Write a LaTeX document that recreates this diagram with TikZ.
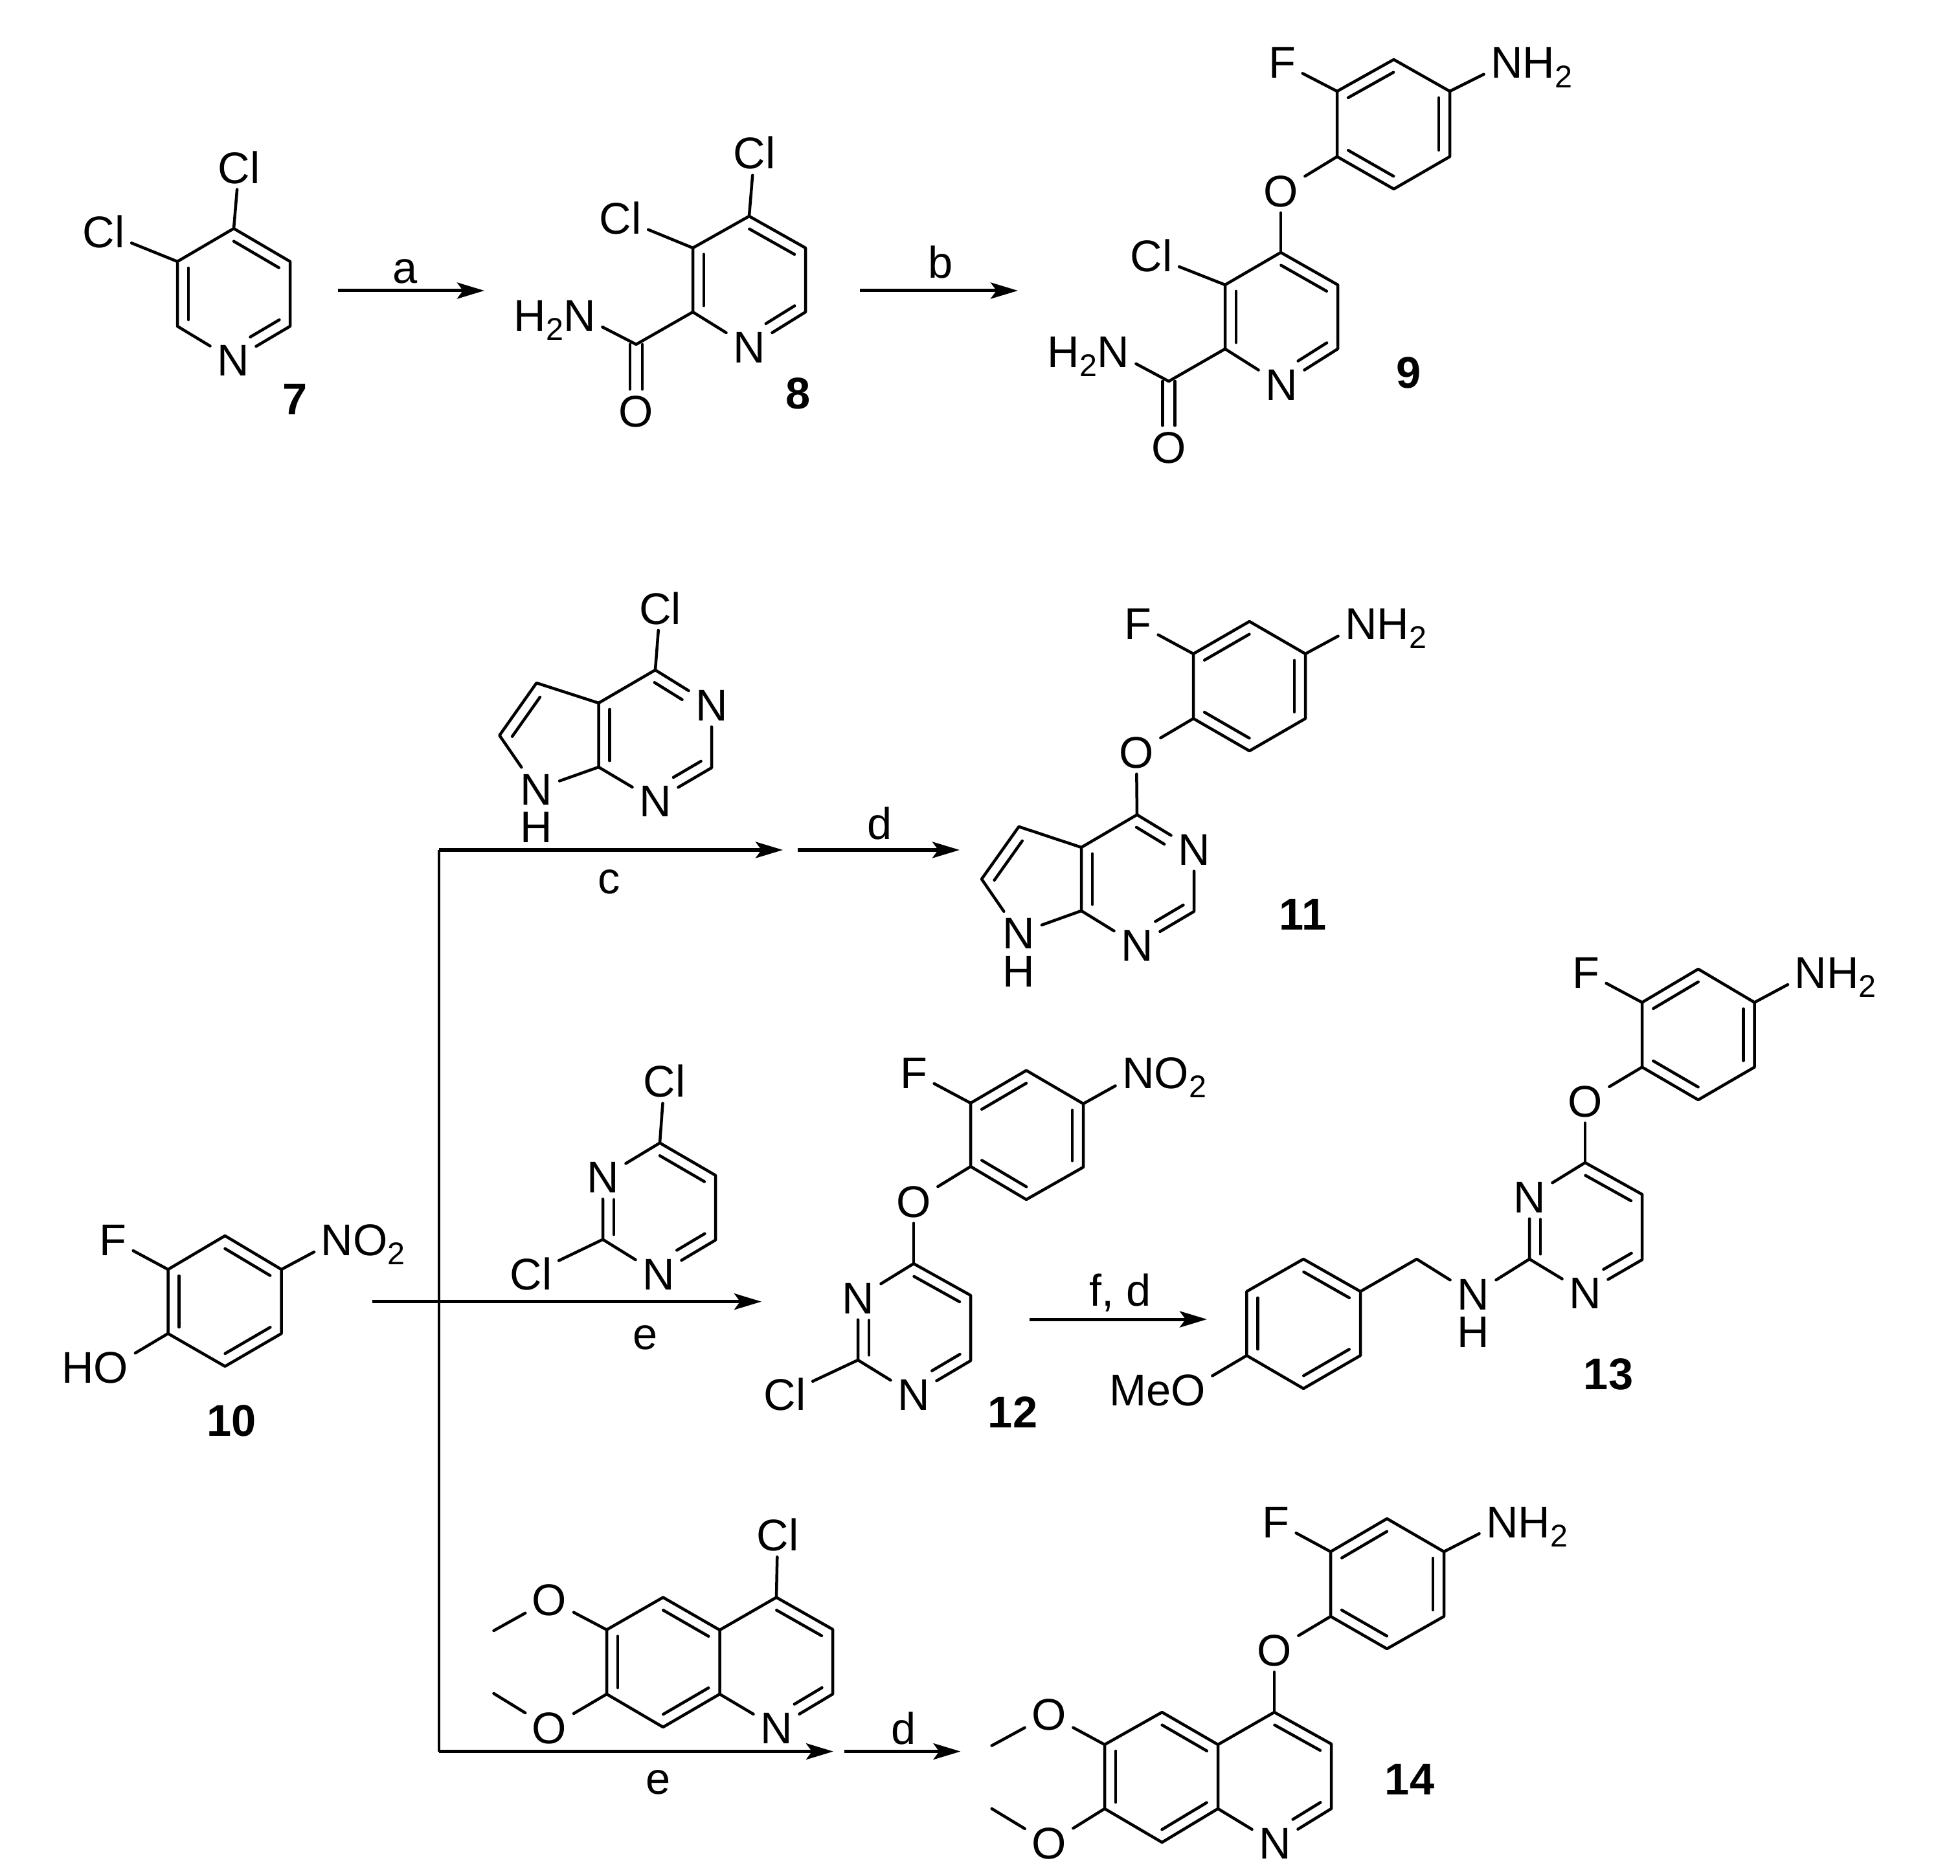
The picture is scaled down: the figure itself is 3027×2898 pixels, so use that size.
\documentclass[tikz,border=0pt]{standalone}
\usepackage{fontspec}
\setmainfont{Liberation Sans}
\usetikzlibrary{calc,arrows.meta}
\newcommand\subtwo{\raisebox{-0.14cm}{\fontsize{13.8pt}{13.8pt}\selectfont 2}}
\newcommand\carb[3]{\coordinate (#1) at (#2,#3);}
\newcommand\atm[4]{\node[atom] (#1) at (#2,#3) {#4};}
\newcommand\hyd[3]{\node[atom,inner sep=0pt] (#1) at (#2,#3) {H};}
\newcommand\dbf[4]{\draw[bond] ($(#1)!#3!(#2)!0.17cm!-90:(#2)$) -- ($(#1)!#4!(#2)!0.17cm!-90:(#2)$);}
\newcommand\db[2]{\dbf{#1}{#2}{0.1}{0.9}}
\newcommand\co[2]{\draw[bond] ([xshift=-0.095cm]#1) -- ([xshift=-0.095cm]#2.north);\draw[bond] ([xshift=0.095cm]#1) -- ([xshift=0.095cm]#2.north);}
\newcommand\phb[1]{\draw[bond] (#1a) -- (#1b) -- (#1c) -- (#1d) -- (#1e) -- (#1f) -- cycle;\db{#1a}{#1b}\db{#1c}{#1d}\db{#1e}{#1f}}
\tikzset{
 every node/.style={font=\fontsize{19.5pt}{19.5pt}\selectfont},
 atom/.style={rectangle,inner xsep=0.1cm,inner ysep=0.09cm,text height=0.48cm,text depth=0pt},
 lab/.style={anchor=base,inner sep=0pt},
 num/.style={inner sep=0pt,text height=0.48cm,text depth=0pt,font=\fontsize{19.5pt}{19.5pt}\selectfont\bfseries},
 bond/.style={line width=0.045cm,line cap=round,line join=round},
 rx/.style={line width=0.05cm,-{Stealth[length=0.42cm,width=0.25cm,inset=0.09cm]}},
 riser/.style={line width=0.04cm,line cap=butt}
}
\begin{document}
\begin{tikzpicture}[x=0.01cm,y=-0.01cm]
\useasboundingbox (0,0) rectangle (3027,2898);
\fill[white] (0,0) rectangle (3027,2898);
% ---- 7
\carb{sa}{361}{353}\carb{sb}{448}{404}\carb{sc}{448}{504}\atm{sn}{360}{556}{N}\carb{sd}{274}{504}\carb{se}{274}{404}
\atm{scla}{369}{259}{Cl}\atm{sclb}{160}{358}{Cl}
\draw[bond] (se)--(sa)--(sb)--(sc)--(sn)--(sd)--(se);
\draw[bond] (sa)--(scla);\draw[bond] (se)--(sclb);
\db{sa}{sb}\dbf{sc}{sn}{0.09}{0.6}\db{sd}{se}
\node[num] (nseven) at (456,616) {7};
% ---- 8
\carb{ea}{1157}{334}\carb{eb}{1244}{383}\carb{ec}{1244}{482}\atm{en}{1157}{536}{N}\carb{ed}{1070}{482}\carb{ee}{1070}{383}
\atm{ecla}{1165}{237}{Cl}\atm{eclb}{958}{337}{Cl}\carb{eam}{982.5}{532}\atm{enh}{895}{487}{\llap{H\subtwo}N}\atm{eo}{982.5}{635}{O}
\draw[bond] (ee)--(ea)--(eb)--(ec)--(en)--(ed)--(ee);
\draw[bond] (ea)--(ecla);\draw[bond] (ee)--(eclb);\draw[bond] (ed)--(eam)--(enh);\co{eam}{eo}
\db{ea}{eb}\dbf{ec}{en}{0.09}{0.6}\db{ed}{ee}
\node[num] (neight) at (1233,607) {8};
% ---- 9
\carb{na}{1978}{390}\carb{nb}{2066}{440}\carb{nc}{2066}{539}\atm{nn}{1979}{594}{N}\carb{nd}{1892}{539}\carb{ne}{1892}{440}
\atm{ncl}{1778}{395}{Cl}\carb{nam}{1805}{589}\atm{nnh}{1719}{543}{\llap{H\subtwo}N}\atm{no}{1805}{691}{O}\atm{nox}{1978}{295}{O}
\draw[bond] (ne)--(na)--(nb)--(nc)--(nn)--(nd)--(ne);
\draw[bond] (ne)--(ncl);\draw[bond] (nd)--(nam)--(nnh);\co{nam}{no}\draw[bond] (na)--(nox);
\db{na}{nb}\dbf{nc}{nn}{0.09}{0.6}\db{nd}{ne}
\carb{pa}{2065}{141}\carb{pb}{2152.5}{92}\carb{pc}{2239}{141}\carb{pd}{2239}{242}\carb{pe}{2152.5}{292}\carb{pf}{2065}{242}
\phb{p}
\atm{pfl}{1980}{97}{F}\atm{pnh}{2327}{97}{N\rlap{H\subtwo}}
\draw[bond] (pa)--(pfl);\draw[bond] (pc)--(pnh);\draw[bond] (pf)--(nox);
\node[num] (nnine) at (2176,575) {9};
% ---- arrows a, b
\coordinate (aas) at (522,449);\coordinate (aae) at (748,449);\coordinate (abs) at (1328,449);\coordinate (abe) at (1572,449);
\draw[rx] (aas)--(aae);\draw[rx] (abs)--(abe);
\node[lab] (txa) at (626,438) {a};\node[lab] (txb) at (1453,430) {b};
% ---- pyrrolopyrimidine reagent
\carb{ra}{1012}{1035}\atm{rn}{1099}{1089}{N}\carb{rc}{1099}{1186}\atm{rm}{1012}{1237}{N}\carb{rd}{924.5}{1185}\carb{re}{924.5}{1086}
\carb{rf}{828.6}{1055}\carb{rg}{771.4}{1136}\atm{rh}{828.6}{1219}{N}\hyd{rhh}{828.6}{1277}\atm{rcl}{1019.4}{940}{Cl}
\draw[bond] (re)--(ra)--(rn)--(rc)--(rm)--(rd)--(re);\draw[bond] (re)--(rf)--(rg)--(rh)--(rd);\draw[bond] (ra)--(rcl);
\dbf{ra}{rn}{0.09}{0.58}\dbf{rc}{rm}{0.09}{0.58}\db{rd}{re}\dbf{rg}{rf}{0.1}{0.85}
% ---- 11
\carb{ta}{1756}{1258.6}\atm{tn}{1844}{1312}{N}\carb{tc}{1844}{1408}\atm{tm}{1756}{1460}{N}\carb{td}{1670}{1407}\carb{te}{1670}{1309}
\carb{tf}{1573.5}{1277}\carb{tg}{1516}{1358}\atm{th}{1573.5}{1441.6}{N}\hyd{thh}{1573.5}{1500}\atm{tox}{1755}{1162}{O}
\draw[bond] (te)--(ta)--(tn)--(tc)--(tm)--(td)--(te);\draw[bond] (te)--(tf)--(tg)--(th)--(td);\draw[bond] (ta)--(tox);
\dbf{ta}{tn}{0.09}{0.58}\dbf{tc}{tm}{0.09}{0.58}\db{td}{te}\dbf{tg}{tf}{0.1}{0.85}
\carb{ua}{1843}{1010}\carb{ub}{1929.6}{960}\carb{uc}{2016}{1010}\carb{ud}{2016}{1110}\carb{ue}{1929.6}{1160}\carb{uf}{1843}{1110}
\phb{u}
\atm{ufl}{1757}{963.5}{F}\atm{unh}{2102}{963.5}{N\rlap{H\subtwo}}
\draw[bond] (ua)--(ufl);\draw[bond] (uc)--(unh);\draw[bond] (uf)--(tox);
\node[num] (neleven) at (2012,1412) {11};
% ---- arrows c, d, e
\coordinate (jt) at (677.5,1313);\coordinate (jb) at (677.5,2705.6);
\coordinate (ace) at (1209,1313);\coordinate (ads) at (1232,1313);\coordinate (ade) at (1482,1313);
\coordinate (aes) at (575,2010.7);\coordinate (aee) at (1176,2010.7);
\coordinate (ale) at (1287,2705.6);\coordinate (abds) at (1304,2705.6);\coordinate (abde) at (1483.5,2705.6);
\coordinate (afs) at (1590,2038);\coordinate (afe) at (1864,2038);
\draw[riser] (jt)--(jb);
\draw[rx] (jt)--(ace);\draw[rx] (ads)--(ade);\draw[rx] (aes)--(aee);\draw[rx] (jb)--(ale);\draw[rx] (abds)--(abde);\draw[rx] (afs)--(afe);
\node[lab] (txc) at (941,1380) {c};\node[lab] (txd) at (1359,1297) {d};\node[lab] (txe) at (997,2084) {e};
\node[lab] (txf) at (1017,2771) {e};\node[lab] (txg) at (1396,2694) {d};\node[lab] (txh) at (1730,2017) {f, d};
% ---- 10
\carb{ha}{259.5}{1961}\carb{hb}{347.5}{1909}\carb{hc}{434.6}{1961}\carb{hd}{434.6}{2060}\carb{he}{347.5}{2110.7}\carb{hf}{259.5}{2060}
\draw[bond] (ha)--(hb)--(hc)--(hd)--(he)--(hf)--cycle;
\db{hb}{hc}\db{hd}{he}\db{hf}{ha}
\atm{hfl}{174}{1915}{F}\atm{hno}{520.6}{1915}{N\rlap{O\subtwo}}\atm{hoh}{171.5}{2112.5}{\llap{H}O}
\draw[bond] (ha)--(hfl);\draw[bond] (hc)--(hno);\draw[bond] (hf)--(hoh);
\node[num] (nten) at (358,2194.6) {10};
% ---- dichloropyrimidine reagent
\carb{ka}{1019}{1765.6}\carb{kb}{1105}{1815.6}\carb{kc}{1105}{1915.6}\atm{kn}{1017}{1968}{N}\carb{kd}{931}{1914.7}\atm{km}{931}{1818.7}{N}
\atm{kcla}{1026}{1670.5}{Cl}\atm{kclb}{820}{1968}{Cl}
\draw[bond] (km)--(ka)--(kb)--(kc)--(kn)--(kd)--(km);\draw[bond] (ka)--(kcla);\draw[bond] (kd)--(kclb);
\db{ka}{kb}\dbf{kc}{kn}{0.09}{0.58}\dbf{kd}{km}{0.08}{0.64}
% ---- 12
\carb{la}{1411}{1952}\carb{lb}{1499}{2001}\carb{lc}{1499}{2102}\atm{ln}{1411}{2154}{N}\carb{ld}{1325}{2101}\atm{lm}{1325}{2005}{N}
\atm{lcl}{1212}{2154}{Cl}\atm{lox}{1411}{1856}{O}
\draw[bond] (lm)--(la)--(lb)--(lc)--(ln)--(ld)--(lm);\draw[bond] (ld)--(lcl);\draw[bond] (la)--(lox);
\db{la}{lb}\dbf{lc}{ln}{0.09}{0.58}\dbf{ld}{lm}{0.08}{0.64}
\carb{qa}{1499}{1704}\carb{qb}{1585}{1653.6}\carb{qc}{1673}{1705}\carb{qd}{1673}{1803}\carb{qe}{1585}{1853}\carb{qf}{1499}{1802}
\phb{q}
\atm{qfl}{1411}{1657}{F}\atm{qno}{1758}{1657.6}{N\rlap{O\subtwo}}
\draw[bond] (qa)--(qfl);\draw[bond] (qc)--(qno);\draw[bond] (qf)--(lox);
\node[num] (ntwelve) at (1564,2181) {12};
% ---- 13
\carb{va}{2448}{1796}\carb{vb}{2536}{1845}\carb{vc}{2536}{1946}\atm{vn}{2448}{1997}{N}\carb{vd}{2362}{1945}\atm{vm}{2362}{1849}{N}
\atm{vox}{2448}{1701}{O}
\draw[bond] (vm)--(va)--(vb)--(vc)--(vn)--(vd)--(vm);\draw[bond] (va)--(vox);
\db{va}{vb}\dbf{vc}{vn}{0.09}{0.58}\dbf{vd}{vm}{0.08}{0.64}
\carb{wa}{2536}{1548.5}\carb{wb}{2622.7}{1497}\carb{wc}{2709.6}{1548.5}\carb{wd}{2709.6}{1648.5}\carb{we}{2622.7}{1699}\carb{wf}{2536}{1648.5}
\phb{w}
\atm{wfl}{2449}{1502}{F}\atm{wnh}{2796.5}{1502}{N\rlap{H\subtwo}}
\draw[bond] (wa)--(wfl);\draw[bond] (wc)--(wnh);\draw[bond] (wf)--(vox);
\atm{xn}{2275}{1999.5}{N}\hyd{xh}{2275}{2057}\carb{xch}{2188}{1945}
\carb{ya}{2013}{1945}\carb{yb}{2101}{1995}\carb{yc}{2101}{2094}\carb{yd}{2013}{2145}\carb{ye}{1925.4}{2094}\carb{yf}{1925.4}{1995}
\phb{y}
\atm{yo}{1835}{2147.4}{\llap{Me}O}
\draw[bond] (vd)--(xn);\draw[bond] (xn)--(xch)--(yb);\draw[bond] (ye)--(yo);
\node[num] (nthirteen) at (2484,2122) {13};
% ---- quinoline reagent
\carb{ba}{1199}{2467.6}\carb{bb}{1286}{2517}\carb{bc}{1286}{2617}\atm{bn}{1199}{2669}{N}\carb{bd}{1111.5}{2617}\carb{be}{1111.5}{2518}
\carb{bf}{1024}{2467.6}\carb{bg}{937}{2517.6}\carb{bh}{937}{2617}\carb{bi}{1024}{2668}
\atm{bcl}{1201}{2371.4}{Cl}\atm{bo}{848.6}{2471}{O}\atm{bp}{848.6}{2669}{O}\coordinate (bm) at (762.5,2519);\coordinate (bq) at (762.5,2616);
\draw[bond] (be)--(ba)--(bb)--(bc)--(bn)--(bd)--(be);\draw[bond] (be)--(bf)--(bg)--(bh)--(bi)--(bd);
\draw[bond] (ba)--(bcl);\draw[bond] (bg)--(bo)--(bm);\draw[bond] (bh)--(bp)--(bq);
\db{ba}{bb}\dbf{bc}{bn}{0.09}{0.58}\db{bf}{be}\db{bd}{bi}\db{bh}{bg}
% ---- 14
\carb{ca}{1968}{2645}\carb{cb}{2056}{2694}\carb{cc}{2056}{2794}\atm{cn}{1969}{2847.5}{N}\carb{cd}{1881}{2794}\carb{ce}{1881}{2695}
\carb{cf}{1794.6}{2645}\carb{cg}{1706}{2695}\carb{ch}{1706}{2794}\carb{ci}{1794.6}{2846}
\atm{cox}{1968}{2549}{O}\atm{co}{1620}{2648.5}{O}\atm{cp}{1620}{2847.5}{O}\coordinate (cm) at (1531.7,2696.6);\coordinate (cq) at (1531.7,2794);
\draw[bond] (ce)--(ca)--(cb)--(cc)--(cn)--(cd)--(ce);\draw[bond] (ce)--(cf)--(cg)--(ch)--(ci)--(cd);
\draw[bond] (ca)--(cox);\draw[bond] (cg)--(co)--(cm);\draw[bond] (ch)--(cp)--(cq);
\db{ca}{cb}\dbf{cc}{cn}{0.09}{0.58}\db{cf}{ce}\db{cd}{ci}\db{ch}{cg}
\carb{da}{2055}{2397}\carb{db}{2142}{2346}\carb{dc}{2230}{2397}\carb{dd}{2230}{2497}\carb{de}{2142}{2547}\carb{df}{2055}{2497}
\phb{d}
\atm{dfl}{1970}{2351}{F}\atm{dnh}{2320}{2351}{N\rlap{H\subtwo}}
\draw[bond] (da)--(dfl);\draw[bond] (dc)--(dnh);\draw[bond] (df)--(cox);
\node[num] (nfourteen) at (2177,2748) {14};
\end{tikzpicture}
\end{document}
